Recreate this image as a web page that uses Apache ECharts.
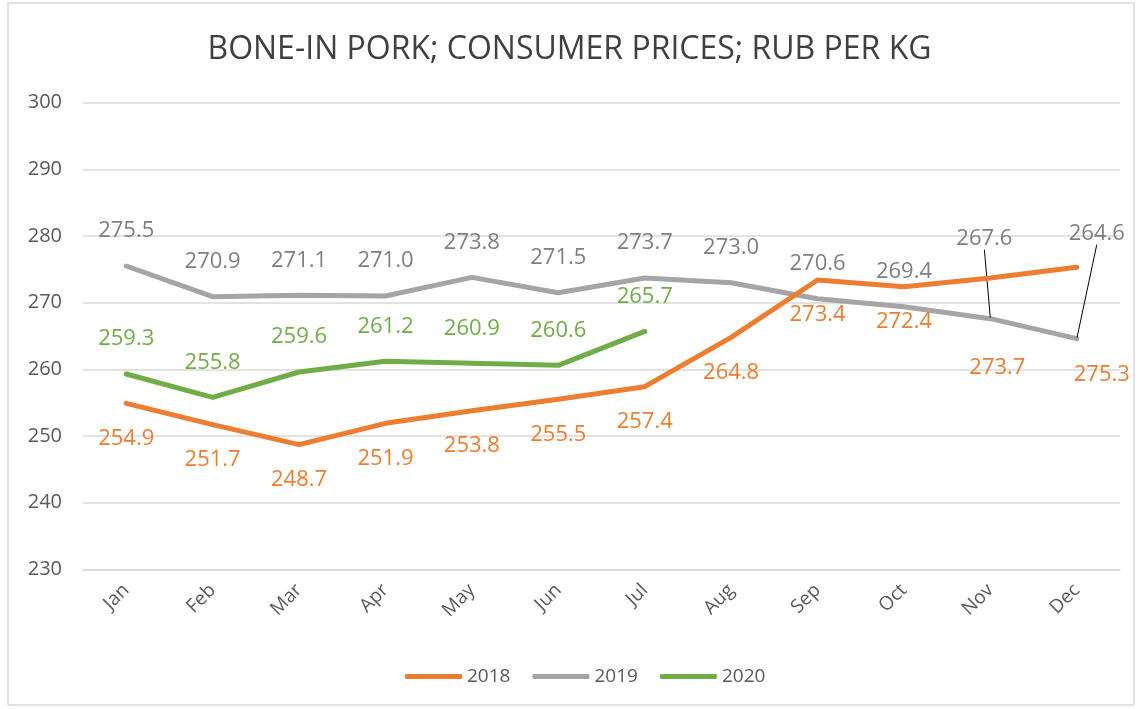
<!DOCTYPE html>
<html>
<head>
<meta charset="utf-8">
<script src="https://cdn.jsdelivr.net/npm/echarts@6/dist/echarts.min.js"></script>
<style>
html,body{margin:0;padding:0;background:#fff;}
#chart{width:1139px;height:709px;}
</style>
</head>
<body>
<div id="chart"></div>
<script>
const titleText = 'BONE-IN PORK; CONSUMER PRICES; RUB PER KG';
const months = ['Jan','Feb','Mar','Apr','May','Jun','Jul','Aug','Sep','Oct','Nov','Dec'];
const seriesNames = ['2018','2019','2020'];
const values2018 = [254.9,251.7,248.7,251.9,253.8,255.5,257.4,264.8,273.4,272.4,273.7,275.3];
const values2019 = [275.5,270.9,271.1,271.0,273.8,271.5,273.7,273.0,270.6,269.4,267.6,264.6];
const values2020 = [259.3,255.8,259.6,261.2,260.9,260.6,265.7];
const yMin = 230, yMax = 300, yStep = 10;

const colors = ['#ED7D31','#A5A5A5','#70AD47'];
const labelColors = ['#ED7D31','#7F7F7F','#70AD47'];
const numFont = '"Open Sans", "DejaVu Sans", sans-serif';

// manual label shifts (dataIndex -> [dx, dy]) replicating moved labels
const shift2018 = {10:[7,55], 11:[25,72]};
const shift2019 = {10:[-6,-45], 11:[20,-70]};

function mkData(arr, leaderIdx){
  return arr.map((v,i)=> leaderIdx && leaderIdx.indexOf(i)>=0
    ? {value:v, labelLine:{show:true, lineStyle:{color:'#000', width:1}}}
    : v);
}

function mkSeries(idx, arr, pos, shifts, leaderIdx){
  return {
    name: seriesNames[idx],
    type: 'line',
    data: mkData(arr, leaderIdx),
    symbol: 'circle',
    symbolSize: 2,
    showSymbol: true,
    itemStyle: {color: colors[idx]},
    lineStyle: {color: colors[idx], width: 5, cap: 'round', join: 'round'},
    label: {
      show: true,
      position: pos,
      distance: 23,
      color: labelColors[idx],
      fontFamily: numFont,
      fontSize: 22,
      formatter: p => Number(p.value).toFixed(1)
    },
    labelLine: {show: false, lineStyle:{color:'#000', width:1}},
    labelLayout: function(p){
      const s = shifts && shifts[p.dataIndex];
      if (s) return {dx: s[0], dy: s[1]};
      return {};
    },
    emphasis: {disabled: true},
    animation: false,
    z: idx === 2 ? 3 : (idx === 0 ? 2 : 1)
  };
}

const chart = echarts.init(document.getElementById('chart'), null, {renderer:'canvas'});
chart.setOption({
  backgroundColor: '#fff',
  animation: false,
  color: colors,
  title: {
    text: titleText,
    left: 'center',
    top: 29,
    textStyle: {
      fontFamily: '"Liberation Sans Narrow", "Open Sans", sans-serif',
      fontWeight: 'normal',
      fontSize: 32,
      color: '#404040'
    }
  },
  graphic: [{
    type: 'rect',
    shape: {x: 8, y: 3, width: 1126, height: 702},
    style: {fill: 'none', stroke: '#D9D9D9', lineWidth: 1.5},
    silent: true,
    z: -10
  }],
  legend: {
    data: seriesNames,
    top: 662,
    left: 400,
    icon: 'roundRect',
    itemWidth: 57,
    itemHeight: 5,
    itemGap: 22,
    textStyle: {color: '#595959', fontSize: 19, fontFamily: numFont}
  },
  grid: {left: 83, right: 19, top: 102.7, bottom: 139.7, containLabel: false},
  xAxis: {
    type: 'category',
    data: months,
    boundaryGap: true,
    axisLine: {show: true, lineStyle: {color: '#D9D9D9', width: 1.5}},
    axisTick: {show: false},
    axisLabel: {rotate: 45, color: '#595959', fontSize: 19, fontFamily: numFont, margin: 18}
  },
  yAxis: {
    type: 'value',
    min: yMin,
    max: yMax,
    interval: yStep,
    axisLine: {show: false},
    axisTick: {show: false},
    splitLine: {lineStyle: {color: '#D9D9D9', width: 1.5}},
    axisLabel: {color: '#595959', fontSize: 20, fontFamily: numFont, margin: 21}
  },
  series: [
    mkSeries(0, values2018, 'bottom', shift2018, null),
    mkSeries(1, values2019, 'top', shift2019, [10,11]),
    mkSeries(2, values2020, 'top', null, null)
  ]
});
</script>
</body>
</html>
